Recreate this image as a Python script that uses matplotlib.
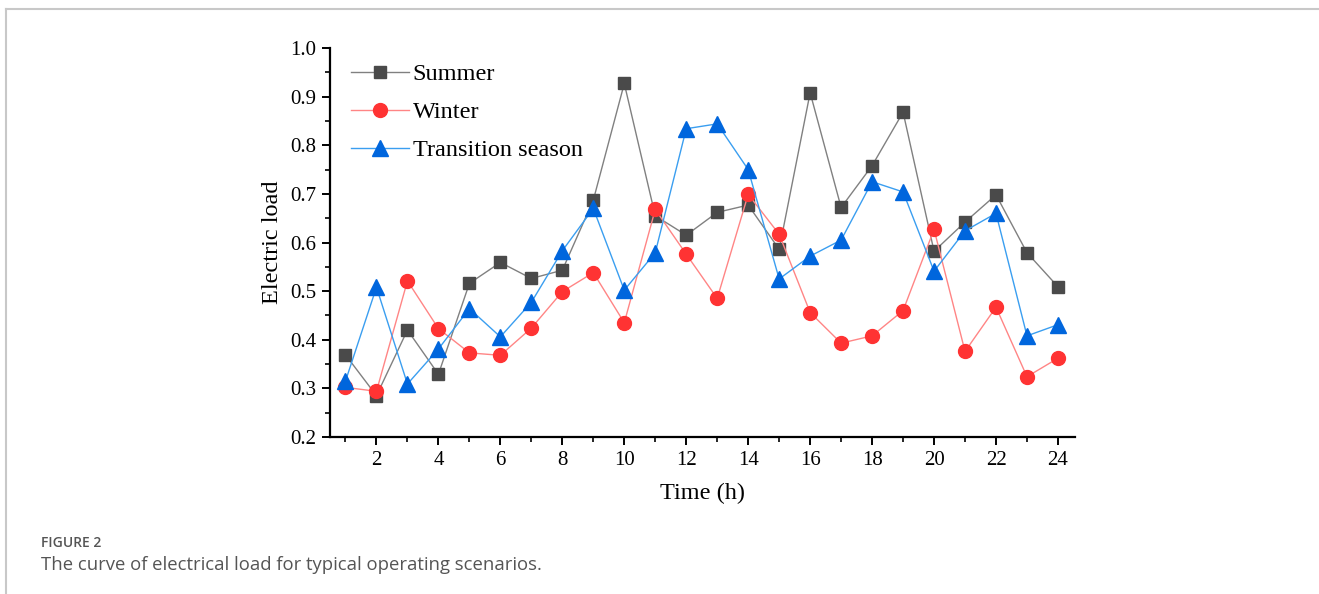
import matplotlib
matplotlib.use("Agg")
import matplotlib.pyplot as plt
from matplotlib.lines import Line2D
from matplotlib.ticker import MultipleLocator

hours = list(range(1, 25))
summer = [0.369, 0.285, 0.420, 0.329, 0.516, 0.559, 0.526, 0.543, 0.687, 0.927,
          0.655, 0.615, 0.662, 0.677, 0.586, 0.908, 0.672, 0.758, 0.868, 0.582,
          0.642, 0.698, 0.579, 0.509]
winter = [0.302, 0.294, 0.521, 0.423, 0.373, 0.368, 0.424, 0.499, 0.538, 0.435,
          0.668, 0.576, 0.485, 0.699, 0.617, 0.456, 0.393, 0.408, 0.460, 0.627,
          0.376, 0.467, 0.324, 0.362]
transition = [0.315, 0.508, 0.309, 0.381, 0.464, 0.406, 0.477, 0.583, 0.670, 0.502,
              0.579, 0.834, 0.844, 0.750, 0.525, 0.572, 0.605, 0.725, 0.704, 0.541,
              0.624, 0.660, 0.408, 0.431]
series_names = ["Summer", "Winter", "Transition season"]
x_ticks = list(range(2, 25, 2))
y_ticks = [0.2, 0.3, 0.4, 0.5, 0.6, 0.7, 0.8, 0.9, 1.0]

serif = ["Liberation Serif", "DejaVu Serif"]
sans = ["Open Sans", "DejaVu Sans"]

fig = plt.figure(figsize=(13.19, 5.94), dpi=100)
ax = fig.add_axes([330 / 1319, 1 - 437 / 594, (1075 - 330) / 1319, (437 - 48) / 594])

styles = [
    dict(color="#808080", marker="s", mfc="#4a4a4a", mec="#4a4a4a", ms=9),
    dict(color="#ff8585", marker="o", mfc="#ff3333", mec="#ff3333", ms=10),
    dict(color="#3a9ef0", marker="^", mfc="#0066dd", mec="#0066dd", ms=11),
]
for vals, name, st in zip([summer, winter, transition], series_names, styles):
    ax.plot(hours, vals, lw=1.0, label=name, **st)

ax.set_xlim(0.5, 24.55)
ax.set_ylim(0.2, 1.0)
ax.set_xticks(x_ticks)
ax.set_yticks(y_ticks)
ax.xaxis.set_minor_locator(MultipleLocator(1))
ax.yaxis.set_minor_locator(MultipleLocator(0.05))
ax.set_yticklabels([f"{v:.1f}" for v in y_ticks])
for side in ("top", "right"):
    ax.spines[side].set_visible(False)
for side in ("left", "bottom"):
    ax.spines[side].set_linewidth(1.6)
ax.tick_params(which="major", direction="out", length=6, width=1.4, labelsize=15, pad=4)
ax.tick_params(which="minor", direction="out", length=3.5, width=1.2)
for lbl in ax.get_xticklabels() + ax.get_yticklabels():
    lbl.set_family(serif)

ax.set_xlabel("Time (h)", fontsize=17.5, family=serif, labelpad=9)
ax.set_ylabel("Electric load", fontsize=17.5, family=serif, labelpad=5)

leg = ax.legend(loc="upper left", frameon=False, prop={"family": serif, "size": 17.5},
                handlelength=2.4, handletextpad=0.15, labelspacing=0.66,
                borderaxespad=0.3, bbox_to_anchor=(0.005, 1.005))

# card border and caption
fig.add_artist(Line2D([6 / 1319, 1.0], [1 - 9 / 594, 1 - 9 / 594], color="#c8c8c8", lw=1.5))
fig.add_artist(Line2D([6 / 1319, 6 / 1319], [0.0, 1 - 9 / 594], color="#c8c8c8", lw=1.5))
fig.text(41 / 1319, 1 - 543 / 594, "FIGURE 2", fontsize=10, color="#555555",
         family=sans, weight="semibold", va="center", ha="left")
fig.text(41 / 1319, 1 - 565 / 594, "The curve of electrical load for typical operating scenarios.",
         fontsize=13.3, color="#555555", family=sans, va="center", ha="left")

fig.savefig("out.png", dpi=100)
